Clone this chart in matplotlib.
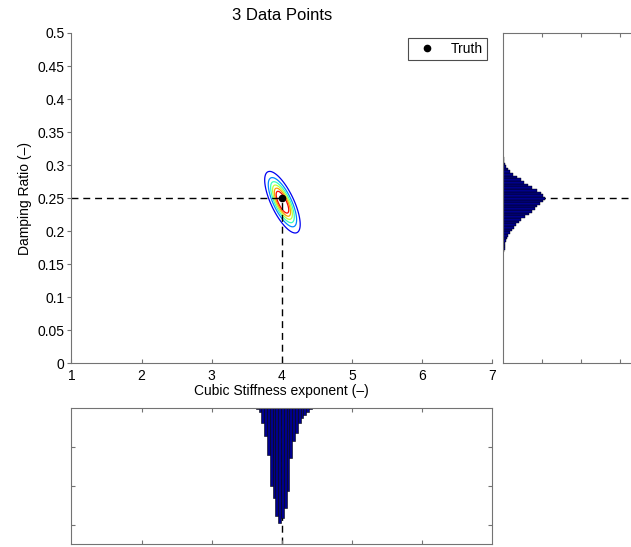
import numpy as np
import matplotlib
matplotlib.use("Agg")
from matplotlib import pyplot as plt

plt.rcParams['font.family'] = ['Liberation Sans', 'DejaVu Sans']
plt.rcParams['font.size'] = 10

# truth values
truth_k = 4.0
truth_zeta = 0.25

# posterior summary
post_mean = [4.01, 0.244]
post_sd = [0.118, 0.0217]
post_rho = -0.72
contour_frac = [0.1, 0.23, 0.36, 0.49, 0.62, 0.75]

# histogram of stiffness exponent samples (bottom panel)
k_left = 3.63
k_width = 0.04
k_counts = [3, 10, 38, 72, 120, 200, 230, 276, 294, 282, 256, 212, 128, 84, 64, 38, 26, 18, 10, 3]

# histogram of damping ratio samples (right panel)
z_left = 0.168
z_width = 0.004
z_counts = [2, 4, 5, 6, 8, 10, 14, 18, 23, 28, 33, 41, 46, 56, 67, 74, 82, 87, 95, 102, 108,
            102, 97, 87, 74, 64, 54, 46, 36, 26, 18, 13, 8, 5, 3, 2]

xticks_main = [1, 2, 3, 4, 5, 6, 7]
yticks_main = [0, 0.05, 0.1, 0.15, 0.2, 0.25, 0.3, 0.35, 0.4, 0.45, 0.5]

spine_col = '0.45'
bar_col = '#00008c'
dash = (0, (5, 3.5))

fig = plt.figure(figsize=(6.31, 5.47), dpi=100)

# ---- main panel
ax = fig.add_axes([0.1133, 0.3355, 0.6664, 0.6042])
gx = np.linspace(3.4, 4.6, 300)
gy = np.linspace(0.12, 0.37, 300)
X, Y = np.meshgrid(gx, gy)
u = (X - post_mean[0]) / post_sd[0]
v = (Y - post_mean[1]) / post_sd[1]
dens = np.exp(-(u**2 - 2*post_rho*u*v + v**2) / (2*(1 - post_rho**2)))
cols = plt.cm.jet(np.linspace(0.1, 0.9, len(contour_frac)))
ax.contour(X, Y, dens, levels=contour_frac, colors=cols, linewidths=0.9)

ax.plot([1, truth_k], [truth_zeta, truth_zeta], color='k', lw=1, linestyle=dash)
ax.plot([truth_k, truth_k], [0, truth_zeta], color='k', lw=1, linestyle=dash)
ax.plot(truth_k, truth_zeta, 'o', color='k', ms=4.5, label='Truth')

ax.set_xlim(1, 7)
ax.set_ylim(0, 0.5)
ax.set_xticks(xticks_main)
ax.set_yticks(yticks_main)
ax.set_yticklabels(['%g' % t for t in yticks_main])
ax.spines['top'].set_visible(False)
ax.spines['right'].set_visible(False)
for s in ['left', 'bottom']:
    ax.spines[s].set_color(spine_col)
ax.tick_params(axis='x', direction='in', length=3, pad=4, color=spine_col)
ax.tick_params(axis='y', direction='out', length=3, pad=2, color=spine_col)
ax.set_title('3 Data Points', pad=9)
ax.set_xlabel('Cubic Stiffness exponent (\u2013)', labelpad=1)
ax.set_ylabel('Damping Ratio (\u2013)', labelpad=4)
leg = ax.legend(loc='upper right', fancybox=False, framealpha=1, edgecolor='0.3',
                borderaxespad=0.35, handlelength=2.2, handletextpad=0.6,
                borderpad=0.3, numpoints=1)
leg.get_frame().set_linewidth(0.8)

# ---- right panel: damping ratio histogram
axr = fig.add_axes([0.7971, 0.3355, 0.2472, 0.6042])
z_edges = z_left + z_width * np.arange(len(z_counts))
axr.axhline(truth_zeta, color='k', lw=1, linestyle=dash, zorder=1)
axr.barh(z_edges, z_counts, height=z_width, align='edge', color=bar_col,
         edgecolor='k', linewidth=0.3, zorder=2)
axr.set_ylim(0, 0.5)
axr.set_xlim(0, 400)
axr.set_xticks([100, 200, 300])
axr.set_xticklabels([])
axr.set_yticks([])
axr.tick_params(axis='x', direction='in', length=3, top=True, color=spine_col)
for s in axr.spines.values():
    s.set_color(spine_col)

# ---- bottom panel: stiffness exponent histogram
axb = fig.add_axes([0.1133, 0.0055, 0.6664, 0.2486])
k_edges = k_left + k_width * np.arange(len(k_counts))
axb.axvline(truth_k, color='k', lw=1, linestyle=dash, zorder=1)
axb.bar(k_edges, k_counts, width=k_width, align='edge', color=bar_col,
        edgecolor='k', linewidth=0.4, zorder=2)
axb.set_xlim(1, 7)
axb.set_ylim(349, 0)
axb.set_xticks([2, 3, 4, 5, 6])
axb.set_yticks([100, 200, 300])
axb.set_xticklabels([])
axb.set_yticklabels([])
axb.tick_params(direction='in', length=3, top=True, right=True, color=spine_col)
for s in axb.spines.values():
    s.set_color(spine_col)

fig.savefig('out.png', dpi=100)
